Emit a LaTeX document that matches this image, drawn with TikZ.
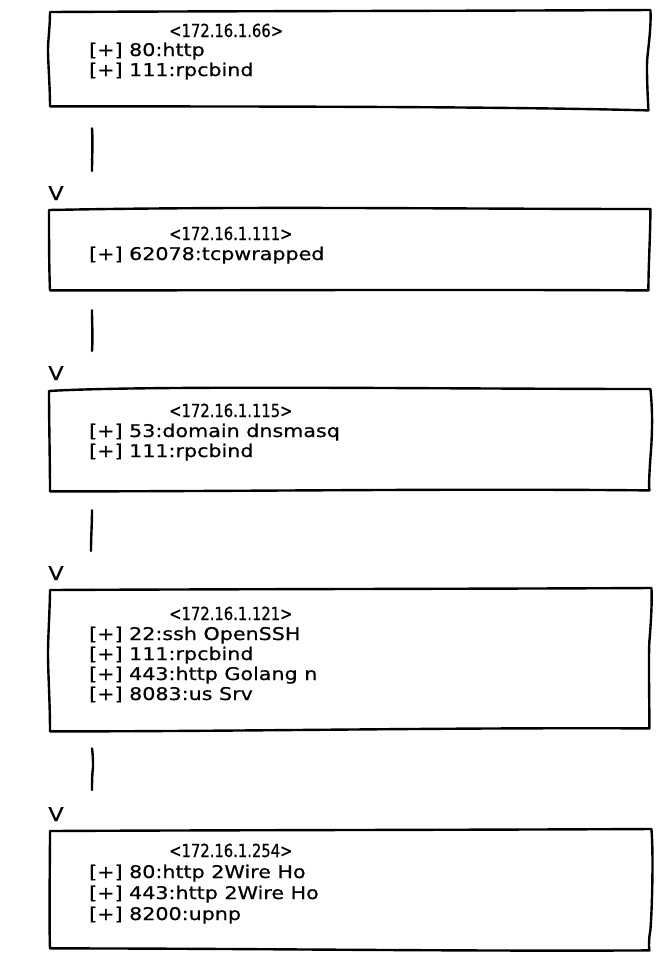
\documentclass[tikz,border=0pt]{standalone}
\usepackage{fontspec}
\setmainfont{DejaVu Sans}
\newfontfamily\linefont[FakeStretch=1.18,FakeBold=0.6]{DejaVu Sans}
\newfontfamily\hdrfont[FakeStretch=0.82,FakeBold=0.6]{DejaVu Sans}
\usetikzlibrary{calc}
\begin{document}
\begin{tikzpicture}[x=1pt,y=-1pt,
  sketch/.style={line width=2.4pt, line cap=round, line join=round},
  boxnode/.style={draw=none, anchor=north west, minimum width=601pt, inner sep=0pt},
  hdr/.style={anchor=base west, inner sep=0pt, font=\hdrfont\fontsize{18}{20}\selectfont},
  entry/.style={anchor=base west, inner sep=0pt, font=\linefont\fontsize{17.5}{20}\selectfont},
  vhead/.style={anchor=base, inner sep=0pt, font=\linefont\fontsize{19}{20}\selectfont}]
\useasboundingbox (0,0) rectangle (670,970);

% ---------- box nodes ----------
\node[boxnode, minimum height=98pt]  (b1) at (49,10)  {};
\node[boxnode, minimum height=81pt]  (b2) at (49,209) {};
\node[boxnode, minimum height=101pt] (b3) at (49,389) {};
\node[boxnode, minimum height=142pt] (b4) at (49,589) {};
\node[boxnode, minimum height=120pt] (b5) at (49,830) {};

% ---------- sketchy borders ----------
\draw[sketch] ([shift={(1,2)}]b1.north west)
  .. controls +(200,-1) and +(-200,1) .. (b1.north east)
  .. controls +(1,15) and +(1,-10) .. ([shift={(-3,47)}]b1.north east)
  .. controls +(-1,10) and +(-1,-20) .. ([shift={(-2,2)}]b1.south east)
  .. controls +(-150,-4) and +(200,0) .. ([shift={(1,-2)}]b1.south west)
  .. controls +(0,-20) and +(0,12) .. ([shift={(-1,40)}]b1.north west)
  .. controls +(0,-10) and +(0,15) .. ([shift={(1,2)}]b1.north west);

\draw[sketch] ([shift={(0,1)}]b2.north west)
  .. controls +(200,-4) and +(-200,0) .. (b2.north east)
  .. controls +(0,25) and +(0,-25) .. ([shift={(-2,0)}]b2.south east)
  .. controls +(-200,-1) and +(200,0) .. ([shift={(1,0)}]b2.south west)
  .. controls +(-1,-25) and +(0,25) .. ([shift={(0,1)}]b2.north west);

\draw[sketch] ([shift={(0,2)}]b3.north west)
  .. controls +(100,-6) and +(-200,0) .. (b3.north east)
  .. controls +(2,20) and +(1,-20) .. ([shift={(1,55)}]b3.north east)
  .. controls +(-1,15) and +(-1,-8) .. ([shift={(-1,0)}]b3.south east)
  .. controls +(-200,-2) and +(200,0) .. ([shift={(1,1)}]b3.south west)
  .. controls +(0,-30) and +(0,30) .. ([shift={(0,2)}]b3.north west);

\draw[sketch] ([shift={(1,1)}]b4.north west)
  .. controls +(200,-1) and +(-200,1) .. ([shift={(1,-1)}]b4.north east)
  .. controls +(1,15) and +(1,-12) .. ([shift={(-1,52)}]b4.north east)
  .. controls +(-1,20) and +(0,-30) .. ([shift={(-1,-3)}]b4.south east)
  .. controls +(-200,-1) and +(200,0) .. ([shift={(1,0)}]b4.south west)
  .. controls +(0,-30) and +(0,20) .. ([shift={(-1,64)}]b4.north west)
  .. controls +(0,-15) and +(0,15) .. ([shift={(1,1)}]b4.north west);

\draw[sketch] ([shift={(1,1)}]b5.north west)
  .. controls +(200,-1) and +(-200,1) .. ([shift={(1,-1)}]b5.north east)
  .. controls +(2,20) and +(2,-25) .. ([shift={(0,100)}]b5.north east)
  .. controls +(-1,5) and +(-1,-6) .. ([shift={(-1,0)}]b5.south east)
  .. controls +(-200,1) and +(200,0) .. ([shift={(1,-2)}]b5.south west)
  .. controls +(-1,-30) and +(0,30) .. ([shift={(1,1)}]b5.north west);

% ---------- texts ----------
\node[hdr]   (t1)  at (169,37) {<172.16.1.66>};
\node[entry] (t1a) at (89,56)  {[+] 80:http};
\node[entry] (t1b) at (89,76)  {[+] 111:rpcbind};

\node[hdr]   (t2)  at (169,240) {<172.16.1.111>};
\node[entry] (t2a) at (89,260)  {[+] 62078:tcpwrapped};

\node[hdr]   (t3)  at (169,417) {<172.16.1.115>};
\node[entry] (t3a) at (89,437)  {[+] 53:domain dnsmasq};
\node[entry] (t3b) at (89,457)  {[+] 111:rpcbind};

\node[hdr]   (t4)  at (169,620) {<172.16.1.121>};
\node[entry] (t4a) at (89,640)  {[+] 22:ssh OpenSSH};
\node[entry] (t4b) at (89,660)  {[+] 111:rpcbind};
\node[entry] (t4c) at (89,680)  {[+] 443:http Golang n};
\node[entry] (t4d) at (89,700)  {[+] 8083:us Srv};

\node[hdr]   (t5)  at (169,857) {<172.16.1.254>};
\node[entry] (t5a) at (89,878)  {[+] 80:http 2Wire Ho};
\node[entry] (t5b) at (89,899)  {[+] 443:http 2Wire Ho};
\node[entry] (t5c) at (89,920)  {[+] 8200:upnp};

% ---------- connectors ----------
\coordinate (a1) at ([shift={(43,20)}]b1.south west);
\coordinate (z1) at ([shift={(43,-38)}]b2.north west);
\draw[sketch] (a1) .. controls +(1,15) and +(0,-15) .. (z1);
\node[vhead] (v1) at ([shift={(7,-9)}]b2.north west) {V};

\coordinate (a2) at ([shift={(43,20)}]b2.south west);
\coordinate (z2) at ([shift={(43,-38)}]b3.north west);
\draw[sketch] (a2) .. controls +(0,15) and +(1,-15) .. (z2);
\node[vhead] (v2) at ([shift={(7,-9)}]b3.north west) {V};

\coordinate (a3) at ([shift={(43,20)}]b3.south west);
\coordinate (z3) at ([shift={(42,-38)}]b4.north west);
\draw[sketch] (a3) .. controls +(0,15) and +(0,-15) .. (z3);
\node[vhead] (v3) at ([shift={(7,-9)}]b4.north west) {V};

\coordinate (a4) at ([shift={(43,17)}]b4.south west);
\coordinate (m4) at ([shift={(44,36)}]b4.south west);
\coordinate (z4) at ([shift={(43,-40)}]b5.north west);
\draw[sketch] (a4) .. controls +(1,8) and +(0,-8) .. (m4) .. controls +(-1,8) and +(0,-8) .. (z4);
\node[vhead] (v4) at ([shift={(7,-9)}]b5.north west) {V};
\end{tikzpicture}
\end{document}
